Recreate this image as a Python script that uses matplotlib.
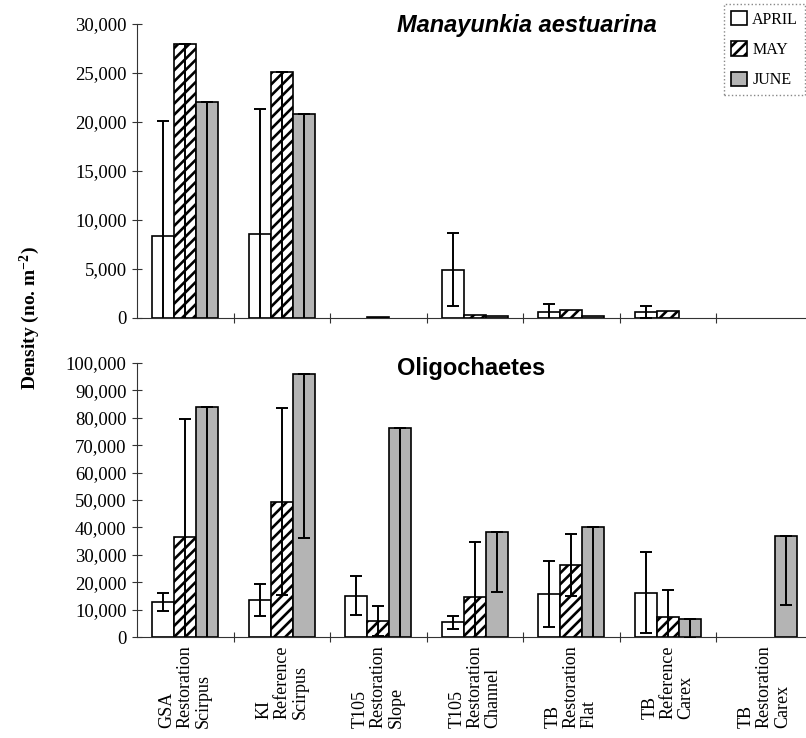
import matplotlib
matplotlib.use("Agg")
import matplotlib.pyplot as plt
import numpy as np
from matplotlib.patches import Patch
from matplotlib.ticker import FuncFormatter

serif = 'Liberation Serif'
sans = 'Liberation Sans'
plt.rcParams['hatch.linewidth'] = 1.9
plt.rcParams['hatch.color'] = 'black'
plt.rcParams['mathtext.fontset'] = 'custom'
plt.rcParams['mathtext.rm'] = serif
plt.rcParams['mathtext.it'] = serif + ':italic'
plt.rcParams['mathtext.bf'] = serif + ':bold'

sites = ["GSA\nRestoration\nScirpus", "KI\nReference\nScirpus", "T105\nRestoration\nSlope",
         "T105\nRestoration\nChannel", "TB\nRestoration\nFlat", "TB\nReference\nCarex",
         "TB\nRestoration\nCarex"]
months = ["APRIL", "MAY", "JUNE"]

# Manayunkia aestuarina (top panel)
mana_april = [8400, 8600, 0, 4900, 600, 600, 0]
mana_april_lo = [11700, 12700, 0, 3700, 800, 650, 0]
mana_april_hi = [11700, 12700, 0, 3800, 800, 650, 0]
mana_may = [28000, 25100, 100, 350, 850, 750, 0]
mana_may_lo = [30000, 27000, 0, 0, 0, 0, 0]
mana_may_hi = [0, 0, 0, 0, 0, 0, 0]
mana_june = [22000, 20800, 0, 200, 250, 0, 0]
mana_june_lo = [24000, 22000, 0, 0, 0, 0, 0]
mana_june_hi = [0, 0, 0, 0, 0, 0, 0]

# Oligochaetes (bottom panel)
olig_april = [12800, 13500, 15100, 5300, 15700, 16200, 0]
olig_april_lo = [3200, 5700, 7200, 2400, 12100, 14900, 0]
olig_april_hi = [3200, 5700, 7200, 2400, 12100, 14900, 0]
olig_may = [36600, 49400, 5800, 14500, 26300, 7200, 0]
olig_may_lo = [42900, 34100, 5600, 20200, 11300, 9900, 0]
olig_may_hi = [42900, 34100, 5600, 20200, 11300, 9900, 0]
olig_june = [84000, 96000, 76400, 38400, 40300, 6500, 37000]
olig_june_lo = [90000, 59900, 80000, 21900, 45000, 7000, 25300]
olig_june_hi = [0, 0, 0, 0, 0, 0, 0]

styles = [dict(facecolor='white', hatch=None),
          dict(facecolor='white', hatch='///'),
          dict(facecolor='#b4b4b4', hatch=None)]

W, H = 806, 738
fig = plt.figure(figsize=(W / 100, H / 100), dpi=100)

x = np.arange(len(sites))
bw = 0.228
xlim = (-0.5, -0.5 + 669 / 96.5)


def panel(rect, series, ymax, step):
    ax = fig.add_axes(rect)
    for i, (vals, lo, hi) in enumerate(series):
        xs = x + (i - 1) * bw
        vals = np.array(vals); lo = np.array(lo); hi = np.array(hi)
        lws = [1.2 if v > 0 else 0 for v in vals]
        ax.bar(xs, vals, width=bw, edgecolor='black', linewidth=lws,
               zorder=2, **styles[i])
        m = (lo + hi) > 0
        ax.errorbar(xs[m], vals[m], yerr=[lo[m], hi[m]], fmt='none',
                    ecolor='black', elinewidth=1.4, capsize=4.5, capthick=1.4,
                    zorder=3)
    ax.set_xlim(*xlim)
    ax.set_ylim(0, ymax)
    ax.set_yticks(np.arange(0, ymax + 1, step))
    ax.yaxis.set_major_formatter(FuncFormatter(lambda v, p: f"{int(v):,}"))
    for s in ['top', 'right']:
        ax.spines[s].set_visible(False)
    for s in ['left', 'bottom']:
        ax.spines[s].set_linewidth(0.8)
        ax.spines[s].set_color('#333333')
    ax.tick_params(axis='y', direction='inout', length=7, width=0.8,
                   labelsize=13.5, pad=4, color='#333333')
    ax.set_xticks(x)
    ax.set_xticks(np.arange(0.5, 6, 1), minor=True)
    ax.tick_params(axis='x', which='major', length=0)
    ax.tick_params(axis='x', which='minor', direction='inout', length=7,
                   width=0.8, color='#333333')
    for lab in ax.get_yticklabels():
        lab.set_fontfamily(serif)
    return ax


top = panel([137 / W, 1 - 318 / H, 669 / W, 294 / H],
            [(mana_april, mana_april_lo, mana_april_hi),
             (mana_may, mana_may_lo, mana_may_hi),
             (mana_june, mana_june_lo, mana_june_hi)], 30000, 5000)
top.set_xticklabels([])

bot = panel([137 / W, 1 - 637 / H, 669 / W, 274 / H],
            [(olig_april, olig_april_lo, olig_april_hi),
             (olig_may, olig_may_lo, olig_may_hi),
             (olig_june, olig_june_lo, olig_june_hi)], 100000, 10000)
bot.set_xticklabels(sites, rotation=90, fontfamily=serif, fontsize=13,
                    linespacing=1.08, multialignment='left', va='top', ha='center')
bot.tick_params(axis='x', which='major', pad=6)

fig.text(397 / W, 1 - 32 / H, "Manayunkia aestuarina", fontfamily=sans,
         fontsize=17, fontweight='bold', fontstyle='italic', ha='left', va='baseline')
fig.text(397 / W, 1 - 375 / H, "Oligochaetes", fontfamily=sans,
         fontsize=17, fontweight='bold', ha='left', va='baseline')

fig.text(30 / W, 1 - 318 / H, r"Density (no. m$^{\mathbf{-2}}$)", fontfamily=serif,
         fontsize=14, fontweight='bold', rotation=90, ha='center', va='center')

handles = [Patch(edgecolor='black', linewidth=1.2, label=m, **styles[i])
           for i, m in enumerate(months)]
leg = fig.legend(handles=handles, loc='upper right', bbox_to_anchor=(1.003, 0.999),
                 prop={'family': serif, 'size': 11.5}, handlelength=1.0,
                 handleheight=1.0, handletextpad=0.3, labelspacing=0.85,
                 borderpad=0.45, borderaxespad=0.2, fancybox=False, framealpha=1)
leg.get_frame().set_edgecolor('#888888')
leg.get_frame().set_linestyle(':')
leg.get_frame().set_linewidth(1.0)

fig.savefig("out.png", dpi=100)
